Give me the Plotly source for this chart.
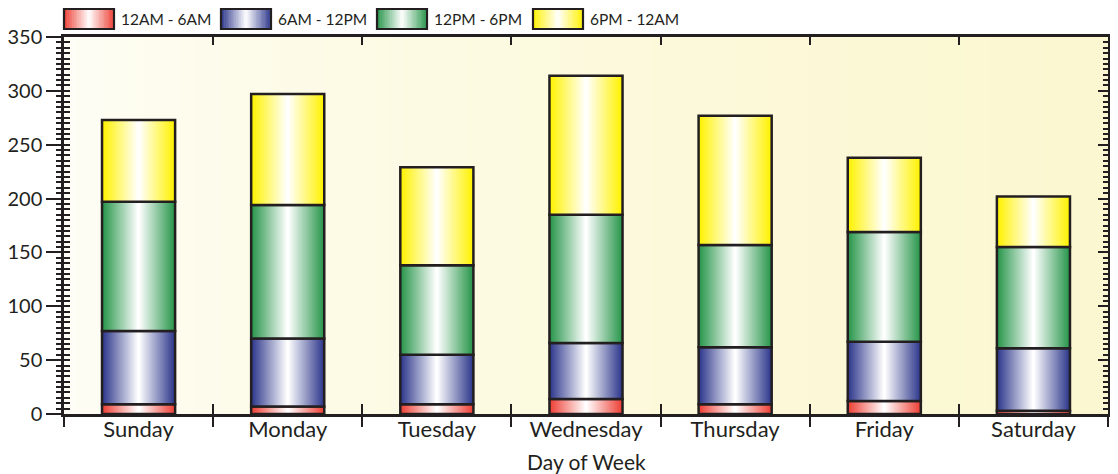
import plotly.graph_objects as go

# ---------------- data ----------------
days = ["Sunday", "Monday", "Tuesday", "Wednesday", "Thursday", "Friday", "Saturday"]
series_names = ["12AM - 6AM", "6AM - 12PM", "12PM - 6PM", "6PM - 12AM"]
vals_12am_6am = [9, 7, 9, 14, 9, 12, 3]
vals_6am_12pm = [68, 63, 46, 52, 53, 55, 58]
vals_12pm_6pm = [120, 124, 83, 119, 95, 102, 94]
vals_6pm_12am = [76, 103, 91, 129, 120, 69, 47]
y_ticks = [0, 50, 100, 150, 200, 250, 300, 350]

# ---------------- styles ----------------
edge_colors = [(238, 64, 54), (46, 56, 140), (40, 150, 75), (255, 242, 0)]
INK = "#231F20"
FONT = "Lato"
BAR_W = 0.49
N_STEPS = 36
OFF = 8  # page body margin offset
W, H = 1110, 466
ML, MR, MT, MB = 56, 10, 29, 60
PW, PH = W - ML - MR, H - MT - MB


def mix(c, t):
    r, g, b = (int(round(ch + (255 - ch) * t)) for ch in c)
    return f"rgb({r},{g},{b})"


def px2paper(px, py):
    """screen pixel -> paper coords"""
    return (px - OFF - ML) / PW, (H - MB - (py - OFF)) / PH


all_series = [vals_12am_6am, vals_6am_12pm, vals_12pm_6pm, vals_6pm_12am]

fig = go.Figure()

# gradient-filled stacked bars (overlay of narrowing bars toward white centre)
base = [0] * len(days)
bases = []
for s in all_series:
    bases.append(list(base))
    base = [b + v for b, v in zip(base, s)]

for si, s in enumerate(all_series):
    for k in range(N_STEPS):
        t = k / (N_STEPS - 1)
        fig.add_trace(go.Bar(
            x=days, y=s, base=bases[si], width=BAR_W * (1 - k / N_STEPS),
            marker=dict(color=mix(edge_colors[si], t), line=dict(width=0)),
            showlegend=False, hoverinfo="skip",
        ))
    # outline
    fig.add_trace(go.Bar(
        x=days, y=s, base=bases[si], width=BAR_W, name=series_names[si],
        marker=dict(color="rgba(0,0,0,0)", line=dict(color=INK, width=2.5)),
        showlegend=False,
    ))

xr = [-0.5, len(days) - 0.5]
yr = [0, 350]
boundaries = [i - 0.5 for i in range(len(days) + 1)]

# invisible anchors so the extra tick axes get drawn
for xa, ya in [("x2", "y"), ("x3", "y"), ("x4", "y"), ("x", "y2"), ("x", "y3")]:
    fig.add_trace(go.Scatter(
        x=[days[0]] if xa == "x" else [0], y=[0], xaxis=xa, yaxis=ya,
        mode="markers", marker=dict(opacity=0, size=1), showlegend=False, hoverinfo="skip",
    ))

# ---------------- background gradient ----------------
shapes = []
N_BG = 80
c_left, c_right = (254, 254, 248), (251, 247, 208)
for i in range(N_BG):
    t = (i + 0.5) / N_BG
    tt = t ** 0.6
    col = tuple(int(round(a + (b - a) * tt)) for a, b in zip(c_left, c_right))
    shapes.append(dict(type="rect", xref="paper", yref="paper",
                       x0=i / N_BG, x1=min(1, (i + 1.6) / N_BG), y0=0, y1=1,
                       fillcolor=f"rgb{col}", line=dict(width=0), layer="below"))

# ---------------- custom legend ----------------
annotations = []
legend_lefts = [64, 221, 377, 533]
SW_W, SW_Y0, SW_Y1 = 50, 9, 29
N_SW = 30
for li, name in enumerate(series_names):
    x0 = legend_lefts[li]
    for j in range(N_SW):
        d = abs((j + 0.5) / N_SW - 0.5) * 2
        col = mix(edge_colors[li], 1 - d)
        ax0, ay0 = px2paper(x0 + SW_W * j / N_SW, SW_Y1)
        ax1, ay1 = px2paper(x0 + SW_W * (j + 1.3) / N_SW if j < N_SW - 1 else x0 + SW_W, SW_Y0)
        shapes.append(dict(type="rect", xref="paper", yref="paper", x0=ax0, x1=ax1,
                           y0=ay0, y1=ay1, fillcolor=col, line=dict(width=0), layer="above"))
    bx0, by0 = px2paper(x0, SW_Y1)
    bx1, by1 = px2paper(x0 + SW_W, SW_Y0)
    shapes.append(dict(type="rect", xref="paper", yref="paper", x0=bx0, x1=bx1, y0=by0, y1=by1,
                       line=dict(color=INK, width=2.2), fillcolor="rgba(0,0,0,0)", layer="above"))
    tx, ty = px2paper(x0 + SW_W + 5, (SW_Y0 + SW_Y1) / 2)
    annotations.append(dict(xref="paper", yref="paper", x=tx, y=ty, xanchor="left", yanchor="middle",
                            text=name, showarrow=False, font=dict(family=FONT, size=15.5, color=INK)))

# axis title
tx, ty = px2paper(586, 461)
annotations.append(dict(xref="paper", yref="paper", x=tx, y=ty, xanchor="center", yanchor="middle",
                        text="Day of Week", showarrow=False, font=dict(family=FONT, size=21, color=INK)))

fig.update_layout(
    width=W, height=H,
    barmode="overlay",
    margin=dict(l=ML, r=MR, t=MT, b=MB, autoexpand=False),
    paper_bgcolor="white",
    plot_bgcolor="#FCFAE6",
    shapes=shapes,
    annotations=annotations,
    font=dict(family=FONT, color=INK),
    xaxis=dict(type="category", range=xr, showline=False, anchor="free", position=0,
               ticks="", showgrid=False, automargin=False, zeroline=False,
               tickfont=dict(size=22, color=INK)),
    xaxis2=dict(overlaying="x", anchor="y", side="bottom", type="linear", range=xr,
                tickmode="array", tickvals=boundaries, ticks="outside", ticklen=10, tickwidth=2,
                tickcolor=INK, showticklabels=False, showgrid=False, zeroline=False,
                showline=True, linecolor=INK, linewidth=2.5, automargin=False),
    xaxis3=dict(overlaying="x", anchor="y", side="bottom", type="linear", range=xr,
                tickmode="array", tickvals=boundaries, ticks="inside", ticklen=10, tickwidth=2,
                tickcolor=INK, showticklabels=False, showgrid=False, zeroline=False, showline=False,
                automargin=False),
    xaxis4=dict(overlaying="x", anchor="y", side="top", type="linear", range=xr,
                tickmode="array", tickvals=boundaries, ticks="inside", ticklen=8, tickwidth=2,
                tickcolor=INK, showticklabels=False, showgrid=False, zeroline=False,
                showline=True, linecolor=INK, linewidth=2.5, automargin=False),
    yaxis=dict(range=yr, tickmode="array", tickvals=y_ticks, showline=True, linecolor=INK,
               linewidth=2.5, ticks="outside", ticklen=15, tickwidth=2, tickcolor=INK,
               minor=dict(ticks="outside", ticklen=5, dtick=5, tickwidth=2, tickcolor=INK),
               showgrid=False, zeroline=False, tickfont=dict(size=20, color=INK), automargin=False),
    yaxis2=dict(overlaying="y", anchor="x", side="left", range=yr, tickmode="array",
                tickvals=y_ticks, ticks="inside", ticklen=6, tickwidth=2, tickcolor=INK,
                minor=dict(ticks="inside", ticklen=6, dtick=5, tickwidth=2, tickcolor=INK),
                showticklabels=False, showgrid=False, zeroline=False, showline=False,
                automargin=False),
    yaxis3=dict(overlaying="y", anchor="x", side="right", range=yr, tickmode="array",
                tickvals=y_ticks, ticks="inside", ticklen=10, tickwidth=2, tickcolor=INK,
                minor=dict(ticks="inside", ticklen=5, dtick=5, tickwidth=2, tickcolor=INK),
                showticklabels=False, showgrid=False, zeroline=False,
                showline=True, linecolor=INK, linewidth=2.5, automargin=False),
    showlegend=False,
)

fig.write_html("out.html")
